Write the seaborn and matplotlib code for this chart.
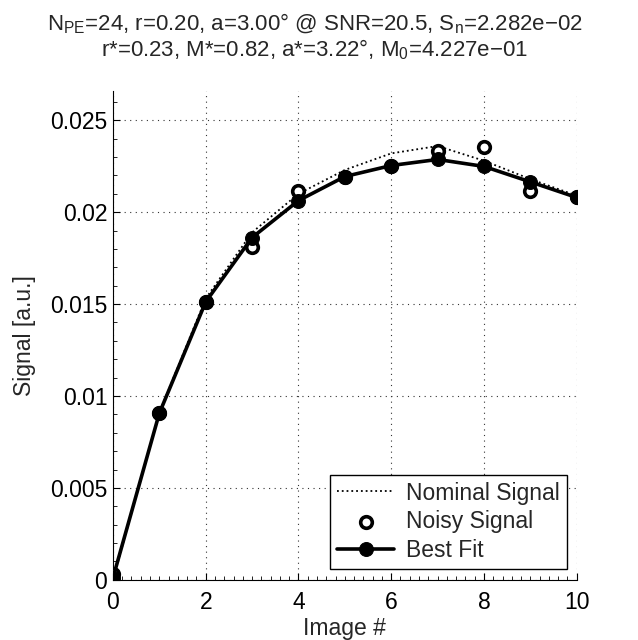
import numpy as np
import pandas as pd
import matplotlib
matplotlib.use("Agg")
import matplotlib.pyplot as plt
from matplotlib.ticker import MultipleLocator
import seaborn as sns

# Data
image_idx = np.arange(11)
nominal = [0.0, 0.0091, 0.0153, 0.0189, 0.0210, 0.0223, 0.0232, 0.0236, 0.0228, 0.0218, 0.0209]
noisy = [0.0003, 0.00906, 0.01512, 0.01812, 0.02118, 0.02194, 0.02254, 0.02334, 0.02352, 0.02118, 0.0208]
best_fit = [0.0001, 0.00906, 0.01512, 0.01862, 0.02063, 0.02194, 0.02254, 0.02287, 0.02249, 0.02165, 0.0208]

df = pd.DataFrame({"x": image_idx, "nominal": nominal, "noisy": noisy, "fit": best_fit})

sns.set_style("white")
plt.rcParams['font.family'] = ['Liberation Sans', 'DejaVu Sans']
plt.rcParams['mathtext.fontset'] = 'custom'
plt.rcParams['mathtext.rm'] = 'Liberation Sans'
plt.rcParams['mathtext.it'] = 'Liberation Sans'

FS = 16.5

fig = plt.figure(figsize=(6.38, 6.40), dpi=100)
ax = fig.add_axes([0.177, 0.094, 0.727, 0.764])

sns.lineplot(data=df, x="x", y="nominal", ax=ax, color="black", linestyle=":",
             linewidth=1.3, label="Nominal Signal")
sns.scatterplot(data=df, x="x", y="noisy", ax=ax, marker="o", s=70,
                facecolor="white", edgecolor="black", linewidth=2.6,
                label="Noisy Signal", zorder=3)
sns.lineplot(data=df, x="x", y="fit", ax=ax, color="black", linewidth=2.6,
             marker="o", markersize=10, markeredgecolor="black",
             label="Best Fit", zorder=4)

ax.set_xlim(0, 10)
ax.set_ylim(0, 0.0266)
ax.xaxis.set_major_locator(MultipleLocator(2))
ax.xaxis.set_minor_locator(MultipleLocator(0.2))
ax.yaxis.set_minor_locator(MultipleLocator(0.001))
ax.set_yticks([0, 0.005, 0.01, 0.015, 0.02, 0.025])
ax.set_yticklabels(["0", "0.005", "0.01", "0.015", "0.02", "0.025"])
ax.tick_params(axis="both", which="both", direction="in", labelsize=FS,
               colors="black", left=True, bottom=True)
ax.tick_params(axis="x", which="major", pad=8)
ax.tick_params(axis="y", which="major", pad=4)
ax.tick_params(which="major", length=5, width=0.8)
ax.tick_params(which="minor", length=3, width=0.6)
ax.grid(True, which="major", linestyle=(0, (1, 4)), color="#333333", linewidth=0.8)

for side in ["top", "right"]:
    ax.spines[side].set_visible(False)
for side in ["left", "bottom"]:
    ax.spines[side].set_color("black")
    ax.spines[side].set_linewidth(0.8)

ax.set_xlabel("Image #", fontsize=FS, labelpad=2)
ax.set_ylabel("Signal [a.u.]", fontsize=FS, labelpad=10)

title = ("N$_{\\mathrm{PE}}$=24, r=0.20, a=3.00° @ SNR=20.5, S$_{\\mathrm{n}}$=2.282e\u221202\n"
         "r*=0.23, M*=0.82, a*=3.22°, M$_{\\mathrm{0}}$=4.227e\u221201")
ax.set_title(title, fontsize=16, pad=25, linespacing=1.05, x=0.435)

leg = ax.legend(loc="lower right", fontsize=FS, frameon=True, fancybox=False,
                edgecolor="black", framealpha=1, borderpad=0.3,
                handlelength=2.5, handletextpad=0.5, labelspacing=0.25,
                borderaxespad=0, bbox_to_anchor=(0.978, 0.0225))
leg.get_frame().set_linewidth(1.0)

fig.savefig("out.png", dpi=100)
